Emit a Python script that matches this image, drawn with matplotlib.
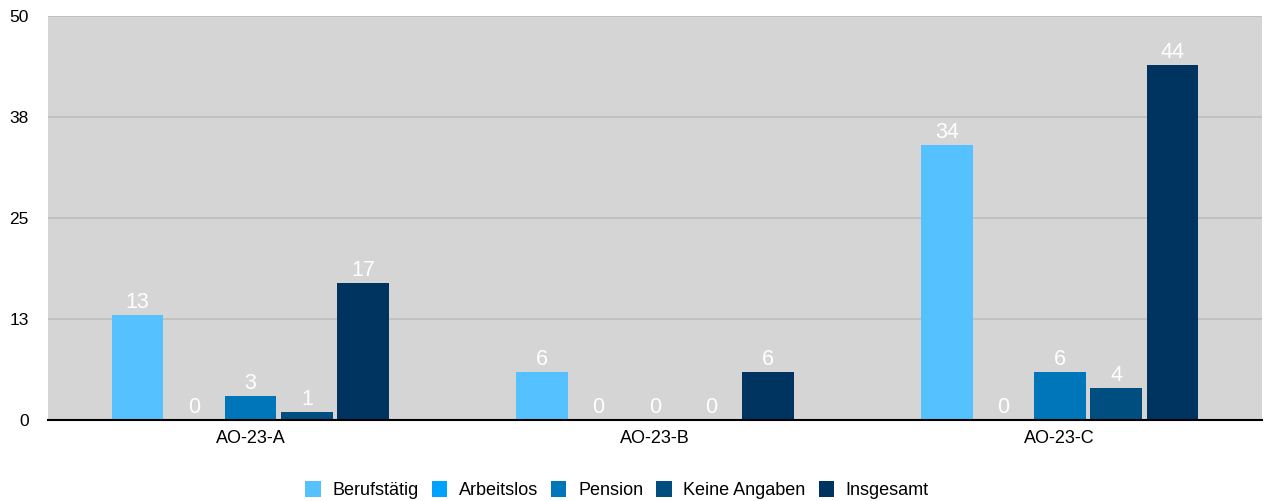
import numpy as np
import matplotlib.pyplot as plt
from matplotlib.patches import Patch

plt.rcParams['font.family'] = ['Liberation Sans', 'DejaVu Sans']

groups = ['AO-23-A', 'AO-23-B', 'AO-23-C']
series = ['Berufstätig', 'Arbeitslos', 'Pension', 'Keine Angaben', 'Insgesamt']
berufstaetig = [13, 6, 34]
arbeitslos = [0, 0, 0]
pension = [3, 0, 6]
keine_angaben = [1, 0, 4]
insgesamt = [17, 6, 44]
values = [berufstaetig, arbeitslos, pension, keine_angaben, insgesamt]
colors = ['#56C1FF', '#00A2FF', '#0076BA', '#004D80', '#003460']
yticks = [0, 12.5, 25, 37.5, 50]

fig = plt.figure(figsize=(12.67, 5.01), dpi=100)
ax = fig.add_axes([0.038, 0.1617, 0.958, 0.8063])
ax.set_facecolor('#D5D5D5')

x = np.arange(len(groups))
step = 0.1395
width = 0.128
for i, (name, vals, col) in enumerate(zip(series, values, colors)):
    pos = x + (i - 2) * step
    ax.bar(pos, vals, width=width, color=col, zorder=3)
    for p, v in zip(pos, vals):
        ax.text(p, v + 0.85, str(v), ha='center', va='baseline', color='white',
                fontsize=15.5, zorder=4)

ax.set_xlim(-0.5, 2.5)
ax.set_ylim(0, 50)
ax.set_yticks(yticks)
ax.set_yticklabels([str(int(t + 0.5)) for t in yticks], fontsize=12.5)
ax.set_xticks(x)
ax.set_xticklabels(groups, fontsize=13)
ax.tick_params(axis='both', length=0)
ax.tick_params(axis='y', pad=14)
ax.tick_params(axis='x', pad=7)
ax.grid(axis='y', color='#BDBDBD', linewidth=1.2, zorder=1)
for s in ['left', 'right', 'top']:
    ax.spines[s].set_visible(False)
ax.spines['bottom'].set_color('black')
ax.spines['bottom'].set_linewidth(1.5)
ax.spines['bottom'].set_zorder(5)

handles = [Patch(facecolor=c, label=n) for n, c in zip(series, colors)]
fig.legend(handles=handles, loc='center', bbox_to_anchor=(0.487, 0.022),
           ncol=5, frameon=False, fontsize=13, handlelength=0.85,
           handleheight=0.95, handletextpad=0.65, columnspacing=0.72,
           borderaxespad=0, borderpad=0)

fig.savefig('out.png', dpi=100)
